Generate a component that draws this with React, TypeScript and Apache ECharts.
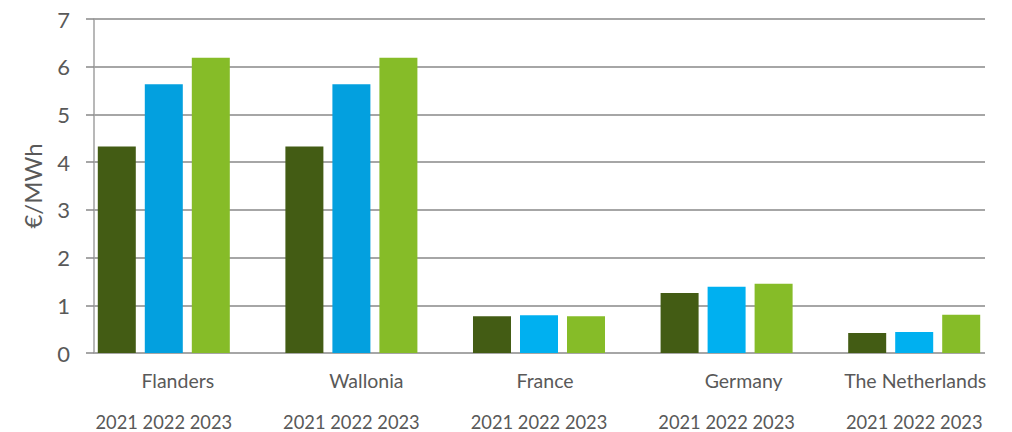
import React, { useEffect, useRef } from "react";
import * as echarts from "echarts";

const regions = ["Flanders", "Wallonia", "France", "Germany", "The Netherlands"];
const years = ["2021", "2022", "2023"];
const values2021 = [4.33, 4.33, 0.77, 1.26, 0.42];
const values2022 = [5.63, 5.63, 0.79, 1.39, 0.44];
const values2023 = [6.19, 6.19, 0.77, 1.45, 0.8];
const yTicks = [0, 1, 2, 3, 4, 5, 6, 7];
const yAxisTitle = "€/MWh";

const FONT = "Lato, 'Open Sans', sans-serif";
const TEXT = "#595959";
const GRID = "#898989";

export default function App() {
  const ref = useRef<HTMLDivElement>(null);
  useEffect(() => {
    if (!ref.current) return;
    const chart = echarts.init(ref.current, undefined, { renderer: "svg" });
    const nameShift = [28, 30, 12, 34, 2];
    const rich: Record<string, any> = {
      y: { fontSize: 18.3, fontFamily: FONT, color: TEXT, lineHeight: 46 },
    };
    nameShift.forEach((s, i) => {
      rich["n" + i] = {
        fontSize: 19.5,
        fontFamily: FONT,
        color: TEXT,
        lineHeight: 38,
        padding: [0, 0, 0, s],
      };
    });
    const blue2022 = values2022.map((v, i) => ({
      value: v,
      itemStyle: { color: i < 2 ? "#03a0df" : "#00b0f0" },
    }));
    chart.setOption({
      animation: false,
      grid: [
        { left: 94, right: 27, top: 19, bottom: 79 },
        { left: 70, right: 4, top: 19, bottom: 79 },
      ],
      xAxis: [
        { type: "value", gridIndex: 0, show: false, min: 0, max: 1 },
        {
          type: "category",
          gridIndex: 1,
          data: regions,
          axisLine: { show: false },
          axisTick: { show: false },
          axisLabel: {
            interval: 0,
            margin: 8,
            formatter: (v: string) => {
              const i = regions.indexOf(v);
              return `{n${i}|${v}}\n{y|${years.join(" ")}}`;
            },
            rich,
          },
        },
      ],
      yAxis: [
        {
          type: "value",
          gridIndex: 0,
          min: yTicks[0],
          max: yTicks[yTicks.length - 1],
          interval: 1,
          name: yAxisTitle,
          nameLocation: "middle",
          nameGap: 50,
          nameTextStyle: { fontSize: 24, fontFamily: FONT, color: TEXT },
          axisLine: { show: true, lineStyle: { color: "#a0a0a0", width: 1.5 } },
          axisTick: { show: true, length: 8, lineStyle: { color: GRID, width: 1.5 } },
          axisLabel: { fontSize: 22, fontFamily: FONT, color: TEXT, margin: 24 },
          splitLine: { show: true, lineStyle: { color: GRID, width: 1.5 } },
        },
        { type: "value", gridIndex: 1, min: 0, max: 7, show: false },
      ],
      series: [
        {
          name: years[0],
          type: "bar",
          xAxisIndex: 1,
          yAxisIndex: 1,
          data: values2021,
          barWidth: 38,
          barGap: "23.7%",
          itemStyle: { color: "#435c14" },
        },
        {
          name: years[1],
          type: "bar",
          xAxisIndex: 1,
          yAxisIndex: 1,
          data: blue2022,
          barWidth: 38,
          barGap: "23.7%",
        },
        {
          name: years[2],
          type: "bar",
          xAxisIndex: 1,
          yAxisIndex: 1,
          data: values2023,
          barWidth: 38,
          barGap: "23.7%",
          itemStyle: { color: "#86bc28" },
        },
      ],
    });
    return () => chart.dispose();
  }, []);
  return (
    <div
      ref={ref}
      style={{ position: "absolute", left: 0, top: 0, width: 1012, height: 432, background: "#fff" }}
    />
  );
}
